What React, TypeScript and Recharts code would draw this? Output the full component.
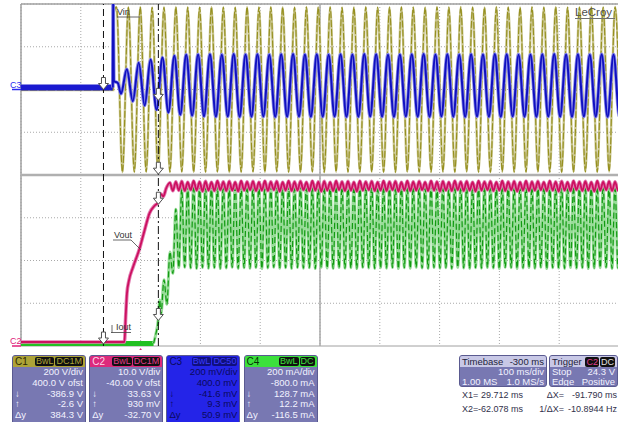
import React from "react";
import { LineChart, Line, XAxis, YAxis, CartesianGrid, ReferenceLine, ReferenceDot } from "recharts";

// screen: 10 div x 100 ms (-200 .. 800 ms), 8 divisions vertical
const TIME_TICKS = [-200, -100, 0, 100, 200, 300, 400, 500, 600, 700, 800];
const DIV_TICKS = [-4, -3, -2, -1, 0, 1, 2, 3, 4];

const CURSOR_X1 = 29.712;
const CURSOR_X2 = -62.078;

// mains half period (ms)
const HALF_CYCLE = 9.925;
const RIPPLE_STEP = 4.9625;

// C1 Vin (V)
const VIN_LEAD: [number, number][] = [[-200, -2.6], [-45.8, -2.6], [-44.6, 360]];
const VIN_T0 = -40.3;
const VIN_EXTREMES = [
  386, -387, 385, -386, 386, -385, 384, -387, 385, -386,
  386, -385, 385, -386, 384, -386, 386, -385, 385, -387,
  384, -386, 386, -385, 385, -386, 386, -384, 385, -386,
  384, -386, 386, -385, 385, -387, 386, -385, 384, -386,
  385, -386, 386, -385, 384, -386, 385, -387, 386, -385,
  385, -386, 384, -386, 386, -385, 385, -386, 386, -384,
  385, -386, 384, -387, 386, -385, 385, -386, 384, -386,
  386, -385, 385, -386, 386, -387, 384, -386, 385, -385,
  386, -386, 385, -384, 386, -386,
];

// C3 input current probe (mV)
const C3_IDLE: [number, number][] = [[-200, 9.3], [-46.5, 9.3]];
const C3_LEAD: [number, number][] = [[-46.5, 9.3], [-46.0, 480], [-44.8, 40], [-38, 30]];
const C3_T0 = -32.9;
const C3_EXTREMES = [
  -20, 95, -55, 125, -75, 140, -95, 150, -108, 158,
  -118, 162, -122, 164, -125, 165, -127, 163, -126, 166,
  -128, 164, -127, 165, -126, 163, -128, 165, -127, 166,
  -126, 164, -128, 165, -127, 163, -126, 165, -128, 164,
  -127, 166, -126, 165, -127, 163, -128, 164, -126, 165,
  -127, 166, -128, 164, -126, 165, -127, 163, -128, 165,
  -126, 164, -127, 166, -128, 165, -126, 163, -127, 164,
  -128, 165, -126, 166, -127, 164, -128, 165, -126, 163,
  -127, 165, -128, 164, -126, 165,
];

// C2 Vout (V)
const VOUT_LEAD: [number, number][] = [
  [-200, 0.93], [-27, 0.93], [-25, 6.7], [-22.8, 12.3], [-19.5, 15.3], [-12.8, 18.4],
  [-1.7, 22.8], [6.7, 27.1], [15, 31.1], [23.3, 32.8], [29.7, 33.63], [33.5, 35.6],
  [38, 35.0], [42.8, 36.9],
];
const VOUT_T0 = 49.0;
const VOUT_EXTREMES = [
  38.2, 36.3, 38.4, 36.4, 38.5, 36.3, 38.3, 36.5, 38.6, 36.4,
  38.4, 36.2, 38.5, 36.4, 38.3, 36.3, 38.6, 36.5, 38.4, 36.3,
  38.5, 36.4, 38.3, 36.2, 38.6, 36.4, 38.4, 36.5, 38.5, 36.3,
  38.3, 36.4, 38.6, 36.3, 38.4, 36.5, 38.5, 36.2, 38.3, 36.4,
  38.6, 36.3, 38.4, 36.4, 38.5, 36.5, 38.3, 36.3, 38.6, 36.4,
  38.4, 36.2, 38.5, 36.4, 38.3, 36.3, 38.6, 36.5, 38.4, 36.3,
  38.5, 36.4, 38.3, 36.2, 38.6, 36.4, 38.4, 36.5, 38.5, 36.3,
  38.3, 36.4, 38.6, 36.3, 38.4, 36.5, 38.5, 36.2, 38.3, 36.4,
  38.6, 36.3, 38.4, 36.4, 38.5, 36.5, 38.3, 36.3, 38.6, 36.4,
  38.4, 36.2, 38.5, 36.4, 38.3, 36.3, 38.6, 36.5, 38.4, 36.3,
  38.5, 36.4, 38.3, 36.2, 38.6, 36.4, 38.4, 36.5, 38.5, 36.3,
  38.3, 36.4, 38.6, 36.3, 38.4, 36.5, 38.5, 36.2, 38.3, 36.4,
  38.6, 36.3, 38.4, 36.4, 38.5, 36.5, 38.3, 36.3, 38.6, 36.4,
  38.4, 36.2, 38.5, 36.4, 38.3, 36.3, 38.6, 36.5, 38.4, 36.3,
  38.5, 36.4, 38.3, 36.2, 38.6, 36.4, 38.4, 36.5, 38.5, 36.3,
  38.4, 36.4, 38.5, 36.3,
];

// C4 Iout (mA)
const IOUT_IDLE: [number, number][] = [[-200, 12.2], [21.7, 12.2]];
const IOUT_LEAD: [number, number][] = [
  [21.7, 12.2], [25, 50], [29.7, 128.7], [32, 215], [34.1, 150], [39.1, 310], [44.0, 195],
  [49.0, 440], [53.9, 340], [58.9, 640], [63.9, 367],
];
const IOUT_T0 = 68.8;
const IOUT_EXTREMES = [
  735, 368, 748, 365, 755, 363, 750, 367, 758, 364,
  752, 366, 746, 362, 756, 365, 750, 368, 760, 363,
  749, 366, 754, 364, 747, 367, 757, 362, 751, 365,
  745, 368, 759, 364, 752, 366, 748, 363, 755, 367,
  750, 364, 757, 366, 746, 362, 753, 368, 749, 365,
  758, 363, 751, 367, 747, 364, 756, 366, 750, 362,
  754, 368, 748, 365, 760, 363, 752, 366, 746, 364,
  755, 367, 749, 362, 757, 366, 751, 364, 747, 368,
  753, 365, 758, 363, 750, 367, 745, 364, 756, 366,
  749, 362, 754, 368, 752, 365, 759, 363, 748, 366,
  751, 364, 746, 367, 757, 365, 753, 362, 750, 368,
  755, 366, 748, 363, 752, 365, 760, 367, 747, 364,
  756, 368, 750, 362, 754, 366, 749, 365, 758, 363,
  752, 367, 747, 364, 755, 366, 751, 362, 757, 365,
  748, 366, 753, 368, 750, 363, 756, 365, 746, 367,
];

// readout panel text
const CH_NAMES = ["C1", "C2", "C3", "C4"];
const CH_COUPLING = ["DC1M", "DC1M", "DC50", "DC"];
const CH_SCALE = ["200 V/div", "10.0 V/div", "200 mV/div", "200 mA/div"];
const CH_OFFSET = ["400.0 V ofst", "-40.00 V ofst", "400.0 mV", "-800.0 mA"];
const CH_CURSOR1 = ["-386.9 V", "33.63 V", "-41.6 mV", "128.7 mA"];
const CH_CURSOR2 = ["-2.6 V", "930 mV", "9.3 mV", "12.2 mA"];
const CH_DELTA = ["384.3 V", "-32.70 V", "50.9 mV", "-116.5 mA"];

const toSeries = (lead: [number, number][], t0: number, step: number, vals: number[]) => [
  ...lead.map(([t, v]) => ({ t, v })),
  ...vals.map((v, i) => ({ t: t0 + i * step, v })),
];
const pairs = (p: [number, number][]) => p.map(([t, v]) => ({ t, v }));

const vinData = toSeries(VIN_LEAD, VIN_T0, HALF_CYCLE, VIN_EXTREMES);
const c3Data = toSeries(C3_LEAD, C3_T0, HALF_CYCLE, C3_EXTREMES);
const c3Idle = pairs(C3_IDLE);
const voutData = toSeries(VOUT_LEAD, VOUT_T0, RIPPLE_STEP, VOUT_EXTREMES);
const ioutData = toSeries(IOUT_LEAD, IOUT_T0, RIPPLE_STEP, IOUT_EXTREMES);
const ioutIdle = pairs(IOUT_IDLE);

const FONT = "'Liberation Sans', Arial, sans-serif";

const CursorArrow = (props: any) => {
  const { cx, cy } = props;
  return (
    <path
      d={`M${cx - 2},${cy - 10} h4 v6 h3 l-5,6 l-5,-6 h3 z`}
      fill="#fff"
      stroke="#505050"
      strokeWidth={1}
    />
  );
};

const TrigMark = (props: any) => {
  const { cx, cy } = props;
  return <path d={`M${cx - 4},${cy + 8} l4,-6 l4,6 z`} fill="#e0207a" />;
};

const chanMark = (name: string, color: string) => (props: any) => {
  const { cx, cy } = props;
  return (
    <g>
      <text x={cx - 11} y={cy - 2} fontSize={9} fontFamily={FONT} fill={color}>
        {name}
      </text>
      <line x1={cx - 9} x2={cx} y1={cy} y2={cy} stroke={color} strokeWidth={1.5} />
    </g>
  );
};

const HEAD = [
  { bg: "#ada337", fg: "#2b2700", tag: "#ada337", body: "#7878b2", text: "#f2f2ff" },
  { bg: "#dc2a7c", fg: "#ffd6ea", tag: "#e03a88", body: "#7878b2", text: "#f2f2ff" },
  { bg: "#2424e8", fg: "#0a0a5c", tag: "#3a3aff", body: "#2424e8", text: "#0a0a5c" },
  { bg: "#3ce03c", fg: "#063006", tag: "#3ce03c", body: "#7878b2", text: "#f2f2ff" },
];

const Tag = ({ label, color, bg = "#101010" }: { label: string; color: string; bg?: string }) => (
  <span
    style={{
      background: bg,
      color,
      borderRadius: 2,
      padding: "0 1px",
      marginLeft: 1,
      lineHeight: "9px",
      fontSize: 9,
    }}
  >
    {label}
  </span>
);

const ChannelBox = ({ i }: { i: number }) => {
  const h = HEAD[i];
  const rows: [string, string][] = [
    ["", CH_SCALE[i]],
    ["", CH_OFFSET[i]],
    ["\u2193", CH_CURSOR1[i]],
    ["\u2191", CH_CURSOR2[i]],
    ["\u0394y", CH_DELTA[i]],
  ];
  return (
    <div
      style={{
        position: "absolute",
        left: 12 + i * 77.2,
        top: 355,
        width: 74,
        height: 70,
        borderRadius: 3,
        background: h.body,
        overflow: "hidden",
        fontFamily: FONT,
        fontSize: 9.5,
        border: "1px solid #5a5a90",
        boxSizing: "border-box",
      }}
    >
      <div
        style={{
          height: 11,
          background: h.bg,
          color: h.fg,
          display: "flex",
          alignItems: "center",
          padding: "0 2px",
          lineHeight: "11px",
        }}
      >
        <span style={{ flex: 1, fontSize: 10 }}>{CH_NAMES[i]}</span>
        <Tag label="BwL" color={h.tag} bg={i === 2 ? "#10107c" : "#101010"} />
        <Tag label={CH_COUPLING[i]} color={h.tag} bg={i === 2 ? "#10107c" : "#101010"} />
      </div>
      {rows.map(([sym, val], k) => (
        <div
          key={k}
          style={{
            height: 10.8,
            lineHeight: "10.8px",
            color: h.text,
            display: "flex",
            padding: "0 2px",
          }}
        >
          <span style={{ flex: 1 }}>{sym}</span>
          <span>{val}</span>
        </div>
      ))}
    </div>
  );
};

const InfoBox = ({
  left,
  width,
  title,
  titleRight,
  rows,
}: {
  left: number;
  width: number;
  title: string;
  titleRight: React.ReactNode;
  rows: [string, string][];
}) => (
  <div
    style={{
      position: "absolute",
      left,
      top: 355,
      width,
      height: 32,
      borderRadius: 3,
      background: "#7878b2",
      overflow: "hidden",
      fontFamily: FONT,
      fontSize: 9.5,
      border: "1px solid #5a5a90",
      boxSizing: "border-box",
    }}
  >
    <div
      style={{
        height: 11,
        lineHeight: "11px",
        background: "#c8c8e6",
        color: "#1e1e3c",
        display: "flex",
        alignItems: "center",
        padding: "0 2px",
      }}
    >
      <span style={{ flex: 1 }}>{title}</span>
      {titleRight}
    </div>
    {rows.map(([a, b], k) => (
      <div key={k} style={{ height: 10, lineHeight: "10px", color: "#f2f2ff", display: "flex", padding: "0 2px" }}>
        <span style={{ flex: 1 }}>{a}</span>
        <span>{b}</span>
      </div>
    ))}
  </div>
);

const txt = (x: number, y: number, s: string, anchor: "start" | "end" = "start") => (
  <text x={x} y={y} fontSize={9} fontFamily={FONT} fill="#30304a" textAnchor={anchor}>
    {s}
  </text>
);

export default function App() {
  return (
    <div
      style={{
        position: "fixed",
        left: 0,
        top: 0,
        width: 618,
        height: 422,
        overflow: "hidden",
        background: "#ffffff",
      }}
    >
      <LineChart width={619} height={350} margin={{ top: 4, right: 0, bottom: 4, left: 21 }}>
        <XAxis type="number" dataKey="t" domain={[-200, 800]} ticks={TIME_TICKS} hide allowDataOverflow />
        <YAxis type="number" domain={[-4, 4]} ticks={DIV_TICKS} hide allowDataOverflow />
        <YAxis yAxisId="c1" type="number" domain={[-1200, 400]} hide allowDataOverflow />
        <YAxis yAxisId="c2" type="number" domain={[0, 80]} hide allowDataOverflow />
        <YAxis yAxisId="c3" type="number" domain={[-1200, 400]} hide allowDataOverflow />
        <YAxis yAxisId="c4" type="number" domain={[0, 1600]} hide allowDataOverflow />
        <CartesianGrid
          stroke="#a9a9a9"
          strokeDasharray="1 2"
          verticalValues={TIME_TICKS}
          horizontalValues={DIV_TICKS}
        />
        <ReferenceLine x={-200} stroke="#a0a0a0" strokeWidth={1.5} />
        <ReferenceLine y={4} stroke="#a0a0a0" strokeWidth={1.5} />
        <ReferenceLine y={-4} stroke="#a0a0a0" strokeWidth={1} />
        <ReferenceLine y={0} stroke="#b0b0b0" strokeWidth={2.5} />
        <ReferenceLine x={300} stroke="#a8a8a8" strokeWidth={1.5} />

        <Line data={vinData} dataKey="v" yAxisId="c1" type="monotone" dot={false} stroke="#cac68f" strokeWidth={2.4} isAnimationActive={false} />
        <Line data={vinData} dataKey="v" yAxisId="c1" type="monotone" dot={false} stroke="#969020" strokeWidth={1.1} strokeDasharray="7 2" isAnimationActive={false} />

        <Line data={c3Idle} dataKey="v" yAxisId="c3" type="linear" dot={false} stroke="#1a1ad0" strokeWidth={6} isAnimationActive={false} />
        <Line data={c3Data} dataKey="v" yAxisId="c3" type="monotone" dot={false} stroke="#8c8ce8" strokeWidth={3.6} isAnimationActive={false} />
        <Line data={c3Data} dataKey="v" yAxisId="c3" type="monotone" dot={false} stroke="#1010c0" strokeWidth={2} isAnimationActive={false} />

        <Line data={ioutIdle} dataKey="v" yAxisId="c4" type="linear" dot={false} stroke="#22c022" strokeWidth={5} isAnimationActive={false} />
        <Line data={ioutData} dataKey="v" yAxisId="c4" type="monotone" dot={false} stroke="#98dc98" strokeWidth={3} isAnimationActive={false} />
        <Line data={ioutData} dataKey="v" yAxisId="c4" type="monotone" dot={false} stroke="#129a12" strokeWidth={1.2} strokeDasharray="6 3" isAnimationActive={false} />

        <Line data={voutData} dataKey="v" yAxisId="c2" type="monotone" dot={false} stroke="#e27cb0" strokeWidth={3.6} isAnimationActive={false} />
        <Line data={voutData} dataKey="v" yAxisId="c2" type="monotone" dot={false} stroke="#cc1060" strokeWidth={1.8} isAnimationActive={false} />

        <ReferenceLine x={CURSOR_X2} stroke="#111" strokeWidth={1} strokeDasharray="7 4" />
        <ReferenceLine x={CURSOR_X1} stroke="#111" strokeWidth={1} strokeDasharray="8 3 2 3" />

        <ReferenceDot x={CURSOR_X2} y={9.3} yAxisId="c3" shape={CursorArrow} />
        <ReferenceDot x={CURSOR_X2} y={0.93} yAxisId="c2" shape={CursorArrow} ifOverflow="visible" />
        <ReferenceDot x={CURSOR_X1} y={-386.9} yAxisId="c1" shape={CursorArrow} />
        <ReferenceDot x={CURSOR_X1} y={-41.6} yAxisId="c3" shape={CursorArrow} />
        <ReferenceDot x={CURSOR_X1} y={33.63} yAxisId="c2" shape={CursorArrow} />
        <ReferenceDot x={CURSOR_X1} y={128.7} yAxisId="c4" shape={CursorArrow} />

        <ReferenceDot x={0} y={-4} shape={TrigMark} ifOverflow="visible" />
        <ReferenceDot x={-200} y={0} yAxisId="c3" shape={chanMark("C3", "#2a2af0")} ifOverflow="visible" />
        <ReferenceDot x={-200} y={0} yAxisId="c2" shape={chanMark("C2", "#e0207a")} ifOverflow="visible" />
      </LineChart>

      <svg width={618} height={422} style={{ position: "absolute", left: 0, top: 0, pointerEvents: "none" }}>
        <text x={117} y={15} fontSize={9} fontFamily={FONT} fill="#333">Vin</text>
        <line x1={117} x2={140} y1={17} y2={17} stroke="#444" strokeWidth={0.8} />
        <text x={114} y={238} fontSize={9} fontFamily={FONT} fill="#333">Vout</text>
        <line x1={113} x2={131} y1={240} y2={240} stroke="#444" strokeWidth={0.8} />
        <line x1={131} x2={141} y1={240} y2={250} stroke="#444" strokeWidth={0.8} />
        <text x={116} y={330} fontSize={9} fontFamily={FONT} fill="#333">Iout</text>
        <line x1={111} x2={131} y1={332.5} y2={332.5} stroke="#444" strokeWidth={0.8} />
        <line x1={112} x2={112} y1={325} y2={333} stroke="#444" strokeWidth={0.8} />
        <text x={575} y={16} fontSize={11.5} fontFamily={FONT} fill="#505050">LeCroy</text>
        <line x1={575} x2={615} y1={18.5} y2={18.5} stroke="#707070" strokeWidth={1} />

        {txt(462, 398, "X1=")}
        {txt(523, 398, "29.712 ms", "end")}
        {txt(564, 398, "\u0394X=", "end")}
        {txt(617, 398, "-91.790 ms", "end")}
        {txt(462, 412, "X2=")}
        {txt(523, 412, "-62.078 ms", "end")}
        {txt(564, 412, "1/\u0394X=", "end")}
        {txt(617, 412, "-10.8944 Hz", "end")}
      </svg>

      {[0, 1, 2, 3].map((i) => (
        <ChannelBox key={i} i={i} />
      ))}
      <InfoBox
        left={459}
        width={88}
        title="Timebase"
        titleRight={<span>-300 ms</span>}
        rows={[["", "100 ms/div"], ["1.00 MS", "1.0 MS/s"]]}
      />
      <InfoBox
        left={549}
        width={69}
        title="Trigger"
        titleRight={
          <span>
            <Tag label="C2" color="#e04090" />
            <Tag label="DC" color="#e0e0e0" />
          </span>
        }
        rows={[["Stop", "24.3 V"], ["Edge", "Positive"]]}
      />
    </div>
  );
}
